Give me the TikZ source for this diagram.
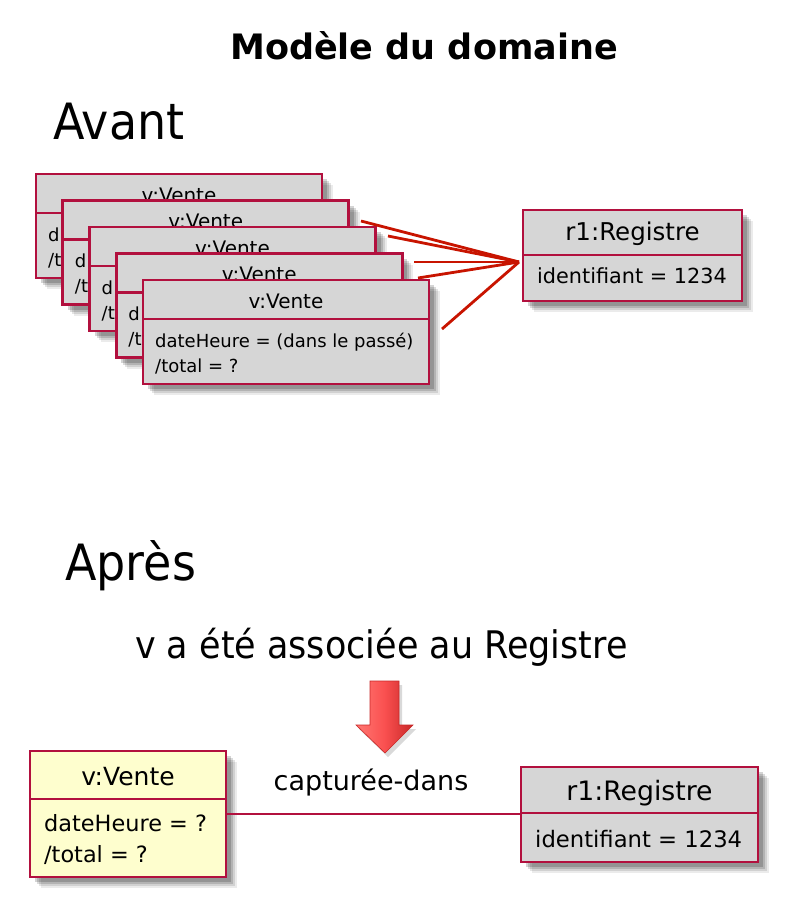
\documentclass[tikz,border=0pt]{standalone}
\usepackage{fontspec}
\setmainfont{DejaVu Sans}
\newfontfamily\narrowfont{DejaVu Sans}[FakeStretch=0.92]
\usetikzlibrary{calc}
\definecolor{umlborder}{RGB}{178,16,62}
\definecolor{umlgray}{RGB}{214,214,214}
\definecolor{umlyellow}{RGB}{254,254,206}
\definecolor{linkred}{RGB}{200,20,0}
\definecolor{arrowlight}{RGB}{255,120,115}
\definecolor{arrowmid}{RGB}{250,80,80}
\definecolor{arrowdark}{RGB}{200,40,40}
\newcommand{\fs}[1]{\fontsize{#1}{#1}\selectfont}
\tikzset{
  objbox/.style={draw=umlborder, line width=2.6pt, rectangle, inner sep=0pt, outer sep=0pt},
  objline/.style={draw=umlborder, line width=2.6pt},
  txt/.style={inner sep=0pt, text=black},
  link/.style={draw=linkred, line width=2.8pt},
  assoc/.style={draw=umlborder, line width=2pt},
}
\newcommand{\umlframe}[7]{%
  \foreach \o/\op in {11/0.08,9/0.11,7/0.14,5/0.17}{
    \fill[black,opacity=\op] ($(#2,#3)+(\o,\o)$) rectangle ++(#4,#5);
  }
  \node[objbox,fill=#7,minimum width=#4pt,minimum height=#5pt,anchor=north west] (#1) at (#2,#3) {};
  \draw[objline] ([yshift=-#6pt]#1.north west) -- ([yshift=-#6pt]#1.north east);
}
\begin{document}
\begin{tikzpicture}[x=1pt,y=-1pt]
\fill[white] (0,0) rectangle (788,898);
\useasboundingbox (0,0) rectangle (788,898);

% Titles
\node[txt, anchor=base, font=\bfseries\fs{35}] (title) at (424,59) {Modèle du domaine};
\node[txt, anchor=base west, font=\narrowfont\fs{50}] (avant) at (53,139) {Avant};
\node[txt, anchor=base west, font=\narrowfont\fs{50}] (apres) at (65,580) {Après};
\node[txt, anchor=base west, font=\narrowfont\fs{38}] (note) at (135,658) {v a été associée au Registre};

% Stack of Vente objects (the covered ones show only the start of their attributes)
\foreach \i in {0,...,3}{
  \pgfmathsetmacro\bx{36+26.75*\i}
  \pgfmathsetmacro\by{174+26.5*\i}
  \umlframe{v\i}{\bx}{\by}{286}{104}{39}{umlgray}
  \node[txt, anchor=base, font=\fs{20}] at ([yshift=-28pt]v\i.north) {v:Vente};
  \node[txt, anchor=base west, font=\fs{18}] at ([xshift=12pt,yshift=-67pt]v\i.north west) {d};
  \node[txt, anchor=base west, font=\fs{18}] at ([xshift=12pt,yshift=-92pt]v\i.north west) {/t};
}
\umlframe{v4}{143}{280}{286}{104}{39}{umlgray}
\node[txt, anchor=base, font=\fs{20}] at ([yshift=-28pt]v4.north) {v:Vente};
\node[txt, anchor=base west, font=\fs{18}] at ([xshift=12pt,yshift=-67pt]v4.north west) {dateHeure = (dans le passé)};
\node[txt, anchor=base west, font=\fs{18}] at ([xshift=12pt,yshift=-92pt]v4.north west) {/total = ?};

% Top Registre
\umlframe{r1}{523}{210}{219}{91}{45}{umlgray}
\node[txt, anchor=base, font=\fs{24.5}] at ([yshift=-30pt]r1.north) {r1:Registre};
\node[txt, anchor=base west, font=\fs{20.8}] at ([xshift=14pt,yshift=-73pt]r1.north west) {identifiant = 1234};

% Links of the stack
\coordinate (m) at (519,262);
\coordinate (s1) at (361,221);
\coordinate (s2) at (388,236);
\coordinate (s3) at (414,262);
\coordinate (s4) at (418,278);
\coordinate (s5) at (442,329);
\foreach \s in {s1,s2,s3,s4,s5}{ \draw[link] (\s) -- (m); }

% Big arrow
\fill[black,opacity=0.15] (373,685) -- (402,685) -- (402,729) -- (416,729) -- (388,757) -- (359,729) -- (373,729) -- cycle;
\shade[left color=arrowlight, right color=arrowdark, middle color=arrowmid, draw=arrowdark, line width=0.6pt]
  (370,681) -- (399,681) -- (399,725) -- (413,725) -- (385,753) -- (356,725) -- (370,725) -- cycle;

% After
\umlframe{vb}{30}{751}{196}{126}{48}{umlyellow}
\node[txt, anchor=base, font=\fs{25}] at ([yshift=-34pt]vb.north) {v:Vente};
\node[txt, anchor=base west, font=\fs{22.4}] at ([xshift=14pt,yshift=-80pt]vb.north west) {dateHeure = ?};
\node[txt, anchor=base west, font=\fs{22.4}] at ([xshift=14pt,yshift=-111pt]vb.north west) {/total = ?};

\umlframe{rb}{521}{767}{237}{95}{46}{umlgray}
\node[txt, anchor=base, font=\fs{26.7}] at ([yshift=-33pt]rb.north) {r1:Registre};
\node[txt, anchor=base west, font=\fs{22.7}] at ([xshift=14pt,yshift=-80pt]rb.north west) {identifiant = 1234};

\draw[assoc] (vb.east) -- (vb.east -| rb.west);
\node[txt, font=\fs{27}] (lab) at (371,783) {capturée-dans};
\end{tikzpicture}
\end{document}
